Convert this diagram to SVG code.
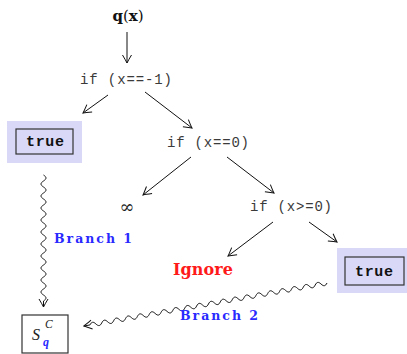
<svg xmlns="http://www.w3.org/2000/svg" width="407" height="354" viewBox="0 0 407 354">
  <style>
    .code { font-family: "Liberation Mono", "DejaVu Sans Mono", monospace; font-size: 14px; fill: #3a3a3a; }
    .tt { font-family: "Liberation Mono", "DejaVu Sans Mono", monospace; font-size: 15px; font-weight: bold; fill: #111; }
    .lbl { font-family: "DejaVu Serif", "Liberation Serif", serif; font-weight: bold; }
    .hl { fill: #d9d9f7; }
    .box { fill: none; stroke: #333; stroke-width: 1.2; }
    .edge { fill: none; stroke: #111; stroke-width: 1; }
    .math { font-family: "Liberation Serif", "DejaVu Serif", serif; font-style: italic; }
  </style>
  <defs>
    <marker id="arr" viewBox="-9 -6 10 12" markerWidth="10" markerHeight="12" refX="0" refY="0" orient="auto" markerUnits="userSpaceOnUse">
      <path d="M-8,-4.5 Q-2.5,-1.2 0,0 Q-2.5,1.2 -8,4.5" fill="none" stroke="#111" stroke-width="1"/>
    </marker>
  </defs>

  <g id="root">
    <text x="128" y="21" text-anchor="middle" class="lbl" font-size="15" fill="#111">q<tspan font-weight="normal">(</tspan>x<tspan font-weight="normal">)</tspan></text>
  </g>
  <g id="cond1">
    <text x="80" y="84" class="code" textLength="92" lengthAdjust="spacing">if (x==-1)</text>
  </g>
  <g id="true1">
    <rect class="hl" x="7" y="121" width="75" height="42"/>
    <rect class="box" x="16" y="129" width="57" height="25"/>
    <text x="26" y="146" class="tt" textLength="38" lengthAdjust="spacing">true</text>
  </g>
  <g id="cond2">
    <text x="167" y="147" class="code" textLength="82" lengthAdjust="spacing">if (x==0)</text>
  </g>
  <g id="inf">
    <text x="127" y="213" text-anchor="middle" font-family="DejaVu Serif, serif" font-size="18" fill="#222">∞</text>
  </g>
  <g id="cond3">
    <text x="250" y="211" class="code" textLength="82" lengthAdjust="spacing">if (x&gt;=0)</text>
  </g>
  <g id="ignore">
    <text x="173" y="275" class="lbl" font-size="16" fill="#ff1a1a" textLength="60" lengthAdjust="spacing">Ignore</text>
  </g>
  <g id="true2">
    <rect class="hl" x="337" y="248" width="70" height="45"/>
    <rect class="box" x="345" y="257" width="59" height="28"/>
    <text x="355" y="276" class="tt" textLength="38" lengthAdjust="spacing">true</text>
  </g>
  <g id="sqc">
    <rect class="box" x="22" y="315" width="46" height="38" stroke-width="1"/>
    <text x="32" y="340" class="math" font-size="16" fill="#222">S</text>
    <text x="45" y="328" class="math" font-size="11.5" fill="#222">C</text>
    <text x="43" y="346" class="math" font-size="12" font-weight="bold" fill="#2a2aff">q</text>
  </g>

  <g id="connectors">
    <line class="edge" x1="127" y1="32" x2="127" y2="63" marker-end="url(#arr)"/>
    <line class="edge" x1="108" y1="95" x2="83" y2="113" marker-end="url(#arr)"/>
    <line class="edge" x1="145" y1="92" x2="192" y2="128" marker-end="url(#arr)"/>
    <line class="edge" x1="191" y1="157" x2="143" y2="195" marker-end="url(#arr)"/>
    <line class="edge" x1="227" y1="157" x2="274" y2="193" marker-end="url(#arr)"/>
    <line class="edge" x1="273" y1="222" x2="228" y2="256" marker-end="url(#arr)"/>
    <line class="edge" x1="309" y1="222" x2="337" y2="242" marker-end="url(#arr)"/>
    <!-- wavy branch from the left "true" down to the result box (sine made of cubic half-waves) -->
    <path class="edge" marker-end="url(#arr)" d="M43.5,175 c3.33,2.16 3.33,3.84 0,6 s-3.33,3.84 0,6 s3.33,3.84 0,6 s-3.33,3.84 0,6 s3.33,3.84 0,6 s-3.33,3.84 0,6 s3.33,3.84 0,6 s-3.33,3.84 0,6 s3.33,3.84 0,6 s-3.33,3.84 0,6 s3.33,3.84 0,6 s-3.33,3.84 0,6 s3.33,3.84 0,6 s-3.33,3.84 0,6 s3.33,3.84 0,6 s-3.33,3.84 0,6 s3.33,3.84 0,6 s-3.33,3.84 0,6 s3.33,3.84 0,6 s-3.33,3.84 0,6 s3.33,3.84 0,6 l0,6"/>
    <text x="54" y="243" class="lbl" font-size="12.5" fill="#2a2aff" textLength="78" lengthAdjust="spacing">Branch 1</text>
    <!-- wavy branch from the right "true" back to the result box -->
    <path class="edge" marker-end="url(#arr)" d="M327,283 c-1.624,3.263 -3.283,3.556 -5.927,1.049 s-4.303,-2.214 -5.927,1.049 s-3.283,3.556 -5.927,1.049 s-4.303,-2.214 -5.927,1.049 s-3.283,3.556 -5.927,1.049 s-4.303,-2.214 -5.927,1.049 s-3.283,3.556 -5.927,1.049 s-4.303,-2.214 -5.927,1.049 s-3.283,3.556 -5.927,1.049 s-4.303,-2.214 -5.927,1.049 s-3.283,3.556 -5.927,1.049 s-4.303,-2.214 -5.927,1.049 s-3.283,3.556 -5.927,1.049 s-4.303,-2.214 -5.927,1.049 s-3.283,3.556 -5.927,1.049 s-4.303,-2.214 -5.927,1.049 s-3.283,3.556 -5.927,1.049 s-4.303,-2.214 -5.927,1.049 s-3.283,3.556 -5.927,1.049 s-4.303,-2.214 -5.927,1.049 s-3.283,3.556 -5.927,1.049 s-4.303,-2.214 -5.927,1.049 s-3.283,3.556 -5.927,1.049 s-4.303,-2.214 -5.927,1.049 s-3.283,3.556 -5.927,1.049 s-4.303,-2.214 -5.927,1.049 s-3.283,3.556 -5.927,1.049 s-4.303,-2.214 -5.927,1.049 s-3.283,3.556 -5.927,1.049 s-4.303,-2.214 -5.927,1.049 s-3.283,3.556 -5.927,1.049 s-4.303,-2.214 -5.927,1.049 s-3.283,3.556 -5.927,1.049 s-4.303,-2.214 -5.927,1.049 s-3.283,3.556 -5.927,1.049 s-4.303,-2.214 -5.927,1.049 s-3.283,3.556 -5.927,1.049 s-4.303,-2.214 -5.927,1.049 s-3.283,3.556 -5.927,1.049 s-4.303,-2.214 -5.927,1.049 l-6,1.06"/>
    <text x="180" y="320" class="lbl" font-size="12.5" fill="#2a2aff" textLength="78" lengthAdjust="spacing">Branch 2</text>
  </g>
</svg>
